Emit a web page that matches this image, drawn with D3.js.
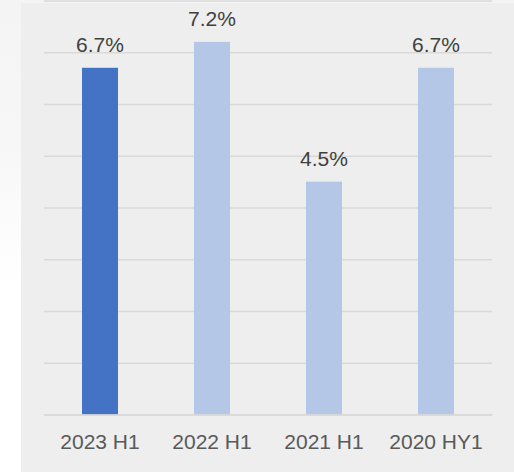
<!DOCTYPE html>
<html>
<head>
<meta charset="utf-8">
<script src="https://cdn.jsdelivr.net/npm/d3@7"></script>
<style>
  html, body { margin: 0; padding: 0; }
  body { width: 514px; height: 474px; overflow: hidden;
         background: linear-gradient(to bottom, #f4f4f4 0%, #f7f7f7 30%, #ffffff 60%, #ffffff 100%); }
  svg { display: block; }
  text { font-family: "Liberation Sans", Arial, sans-serif; }
</style>
</head>
<body>
<svg id="chart" width="514" height="474"></svg>
<script>
// Half-year rates by period
const categories = ["2023 H1", "2022 H1", "2021 H1", "2020 HY1"];
const values = [6.7, 7.2, 4.5, 6.7];
const tickValues = [0, 1, 2, 3, 4, 5, 6, 7, 8];

const svg = d3.select("#chart");

// panel behind the plot
svg.append("rect")
  .attr("x", 21).attr("y", 3)
  .attr("width", 493).attr("height", 469)
  .attr("fill", "#eeeeee");

const x = d3.scaleBand()
  .domain(categories)
  .range([44, 492])
  .paddingInner(76 / 112)
  .paddingOuter(38 / 112);

const y = d3.scaleLinear()
  .domain([0, 8])
  .range([414.5, 0.5]);

// horizontal gridlines
const grid = d3.axisLeft(y)
  .tickValues(tickValues)
  .tickSize(-(492 - 44))
  .tickFormat("");
svg.append("g")
  .attr("transform", "translate(44,0)")
  .call(grid)
  .call(g => g.select(".domain").remove())
  .call(g => g.selectAll(".tick line")
    .attr("stroke", "#d9d9d9")
    .attr("stroke-width", 1.5));

// bars
svg.append("g")
  .selectAll("rect")
  .data(values)
  .join("rect")
  .attr("x", (d, i) => x(categories[i]))
  .attr("y", d => y(d))
  .attr("width", x.bandwidth())
  .attr("height", d => y(0) - y(d))
  .attr("fill", (d, i) => i === 0 ? "#4472c4" : "#b4c7e7");

// value labels
svg.append("g")
  .selectAll("text")
  .data(values)
  .join("text")
  .attr("x", (d, i) => x(categories[i]) + x.bandwidth() / 2)
  .attr("y", d => y(d) - 16)
  .attr("text-anchor", "middle")
  .attr("font-size", 21)
  .attr("fill", "#404040")
  .text(d => d.toFixed(1) + "%");

// category axis
const xAxis = d3.axisBottom(x).tickSize(0).tickPadding(0);
svg.append("g")
  .attr("transform", `translate(0,${y(0)})`)
  .call(xAxis)
  .call(g => g.select(".domain")
    .attr("stroke", "#d9d9d9")
    .attr("stroke-width", 1.5))
  .call(g => g.selectAll(".tick text")
    .attr("y", 34)
    .attr("dy", 0)
    .attr("font-size", 21)
    .attr("font-family", "'Liberation Sans', Arial, sans-serif")
    .attr("fill", "#595959"));
</script>
</body>
</html>
